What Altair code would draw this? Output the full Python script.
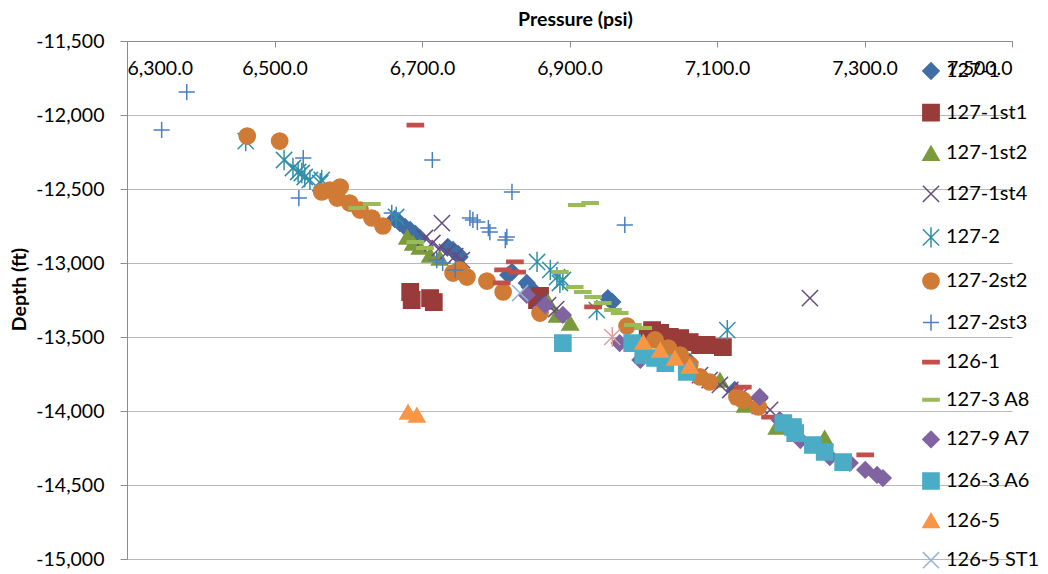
import altair as alt
import pandas as pd

# ---- data (pressure psi, depth ft) ----
s127_1_p = [6663, 6670, 6677, 6684, 6691, 6697, 6735, 6742, 6749, 6751, 6817, 6822, 6842, 6846, 6851, 6952, 6958, 7009, 7063, 7124]
s127_1_d = [-12703, -12730, -12757, -12777, -12804, -12831, -12892, -12912, -12939, -12960, -13081, -13061, -13135, -13162, -13196, -13237, -13264, -13507, -13669, -13858]

s127_1st1_p = [6684, 6686, 6711, 6716, 6856, 6860, 7006, 7012, 7023, 7036, 7050, 7063, 7077, 7086, 7108]
s127_1st1_d = [-13196, -13250, -13237, -13264, -13250, -13223, -13487, -13453, -13473, -13500, -13507, -13534, -13554, -13554, -13568]

s127_1st2_p = [6680, 6688, 6697, 6711, 6724, 6871, 6883, 6901, 7104, 7138, 7181, 7246]
s127_1st2_d = [-12824, -12865, -12892, -12946, -12966, -13264, -13351, -13405, -13791, -13959, -14108, -14182]

s127_1st4_p = [6727, 7226, 6704, 6714, 6724, 6734, 6745, 6754, 6860, 6871, 6882, 7077, 7090, 7104, 7118, 7131, 7145, 7158, 7172]
s127_1st4_d = [-12730, -13237, -12831, -12865, -12899, -12926, -12953, -12980, -13250, -13284, -13311, -13757, -13791, -13824, -13858, -13899, -13926, -13966, -13993]

s127_2_p = [6461, 6513, 6525, 6532, 6537, 6541, 6548, 6562, 6564, 6665, 6856, 6874, 6883, 6891, 6887, 6937, 7114]
s127_2_d = [-12176, -12304, -12358, -12385, -12392, -12419, -12439, -12460, -12439, -12689, -12993, -13047, -13095, -13115, -13135, -13318, -13453]

s127_2st2_p = [6463, 6507, 6564, 6575, 6589, 6585, 6602, 6616, 6632, 6647, 6742, 6751, 6761, 6788, 6810, 6860, 6978,
               7016, 7034, 7050, 7063, 7077, 7090, 7127, 7135, 7156]
s127_2st2_d = [-12142, -12176, -12520, -12507, -12487, -12561, -12595, -12642, -12696, -12750, -13068, -13047, -13095, -13122, -13196, -13338, -13426,
               -13520, -13575, -13622, -13689, -13770, -13804, -13905, -13926, -13973]

s127_2st3_p = [6381, 6347, 6539, 6533, 6714, 6822, 6975, 6765, 6769, 6775, 6790, 6792, 6815, 6813, 6659, 6720, 6728, 6745]
s127_2st3_d = [-11845, -12101, -12291, -12561, -12304, -12520, -12743, -12696, -12709, -12723, -12764, -12791, -12824, -12845, -12662, -12980, -13000, -13047]

s126_1_p = [6691, 6826, 6810, 6829, 6808, 6932, 7135, 7172, 7301]
s126_1_d = [-12068, -12993, -13047, -13061, -13135, -13297, -13838, -14041, -14297]

s127_3a8_p = [6612, 6632, 6691, 6704, 6910, 6928, 6887, 6907, 6918, 6932, 6945, 6959, 6968, 6986, 7000]
s127_3a8_d = [-12628, -12601, -12858, -12899, -12608, -12595, -13061, -13162, -13196, -13230, -13270, -13318, -13338, -13419, -13439]

s127_9a7_p = [6842, 6867, 6891, 6968, 6996, 7158, 7185, 7213, 7253, 7280, 7301, 7317, 7325]
s127_9a7_d = [-13216, -13284, -13351, -13541, -13655, -13905, -14061, -14196, -14311, -14351, -14398, -14432, -14453]

s126_3a6_p = [6891, 6985, 7000, 7016, 7030, 7059, 7190, 7203, 7206, 7230, 7246, 7271]
s126_3a6_d = [-13541, -13541, -13622, -13642, -13676, -13736, -14081, -14108, -14149, -14230, -14277, -14345]

s126_5_p = [6681, 6693, 7000, 7023, 7043, 7063]
s126_5_d = [-14007, -14027, -13534, -13588, -13642, -13696]

s126_5st1_p = [6833]
s126_5st1_d = [-13203]

s_extra_p = [6958]
s_extra_d = [-13500]

series_names = ["127-1", "127-1st1", "127-1st2", "127-1st4", "127-2", "127-2st2", "127-2st3",
                "126-1", "127-3 A8", "127-9 A7", "126-3 A6", "126-5", "126-5 ST1", "126-6"]
series_data = [(s127_1_p, s127_1_d), (s127_1st1_p, s127_1st1_d), (s127_1st2_p, s127_1st2_d),
               (s127_1st4_p, s127_1st4_d), (s127_2_p, s127_2_d), (s127_2st2_p, s127_2st2_d),
               (s127_2st3_p, s127_2st3_d), (s126_1_p, s126_1_d), (s127_3a8_p, s127_3a8_d),
               (s127_9a7_p, s127_9a7_d), (s126_3a6_p, s126_3a6_d), (s126_5_p, s126_5_d),
               (s126_5st1_p, s126_5st1_d), (s_extra_p, s_extra_d)]

x_ticks = [6300, 6500, 6700, 6900, 7100, 7300, 7500]
y_ticks = [-11500, -12000, -12500, -13000, -13500, -14000, -14500, -15000]

# ---- styles ----
X_PATH = "M-1,-1L1,1M-1,1L1,-1"
AST_PATH = "M-1,-1L1,1M-1,1L1,-1M0,-1.25L0,1.25"
PLUS_PATH = "M-1,0L1,0M0,-1L0,1"
RED_DASH = "M-1,-0.2L1,-0.2L1,0.2L-1,0.2Z"
GREEN_DASH = "M-1,-0.15L1,-0.15L1,0.15L-1,0.15Z"

colors = ["#3F6EA6", "#993B38", "#7B9A3C", "#654B82", "#3190A8", "#CF7B36", "#4A7FC1",
          "#C44E4A", "#9BBB59", "#8064A2", "#4BACC6", "#F79646", "#95B3D7", "#DB9E9C"]
shapes = ["diamond", "square", "triangle-up", X_PATH, AST_PATH, "circle", PLUS_PATH,
          RED_DASH, GREEN_DASH, "diamond", "square", "triangle-up", X_PATH, AST_PATH]
hollow = {3, 4, 6, 12, 13}
fills = ["transparent" if i in hollow else c for i, c in enumerate(colors)]
sizes = [265, 260, 250, 215, 245, 285, 220, 81, 289, 265, 260, 250, 215, 215]

rows = []
for name, (ps, ds) in zip(series_names, series_data):
    for p, d in zip(ps, ds):
        rows.append({"series": name, "pressure": p, "depth": d})
df = pd.DataFrame(rows)

FONT = "Lato"
legend = alt.Legend(title=None, orient="none", legendX=794, legendY=20, padding=0,
                    values=series_names[:13], labelFont=FONT, labelFontSize=20,
                    labelColor="#000000", rowPadding=17.6, labelOffset=5,
                    symbolStrokeWidth=1.5, symbolOpacity=1)

chart = alt.Chart(df).mark_point(opacity=1, strokeWidth=1.5).encode(
    x=alt.X("pressure:Q",
            scale=alt.Scale(domain=[6300, 7500], nice=False, zero=False),
            axis=alt.Axis(orient="bottom", offset=-518, values=x_ticks, format=",.1f",
                          grid=False, tickSize=6, tickColor="#8C8C8C", domainColor="#8C8C8C",
                          labelPadding=12, labelFont=FONT, labelFontSize=19.5, labelColor="#000000",
                          title="Pressure (psi)", titleFont=FONT, titleFontSize=19.5,
                          titleFontWeight="bold", titleColor="#000000",
                          titleX=448, titleY=-22, titleBaseline="middle", titleAnchor="middle")),
    y=alt.Y("depth:Q",
            scale=alt.Scale(domain=[-15000, -11500], nice=False, zero=False),
            axis=alt.Axis(values=y_ticks, labelExpr="replace(format(datum.value, ',d'), '\u2212', '-')",
                          grid=True, gridColor="#B8B8B8", gridWidth=1,
                          tickSize=7, tickColor="#8C8C8C", domainColor="#8C8C8C",
                          labelPadding=16, labelFont=FONT, labelFontSize=19.5, labelColor="#000000",
                          title="Depth (ft)", titleFont=FONT, titleFontSize=19.5,
                          titleFontWeight="bold", titleColor="#000000",
                          titleAngle=-90, titleX=-108, titleY=248,
                          titleBaseline="middle", titleAlign="center")),
    fill=alt.Fill("series:N", scale=alt.Scale(domain=series_names, range=fills), legend=legend),
    stroke=alt.Stroke("series:N", scale=alt.Scale(domain=series_names, range=colors), legend=legend),
    shape=alt.Shape("series:N", scale=alt.Scale(domain=series_names, range=shapes), legend=legend),
    size=alt.Size("series:N", scale=alt.Scale(domain=series_names, range=sizes), legend=legend),
).properties(
    width=885, height=518,
    autosize=alt.AutoSizeParams(type="none"),
    padding={"left": 119, "top": 33, "right": 28, "bottom": 12},
).configure_view(strokeWidth=0)

chart.save("out.html", embed_options={"renderer": "svg", "actions": False})
